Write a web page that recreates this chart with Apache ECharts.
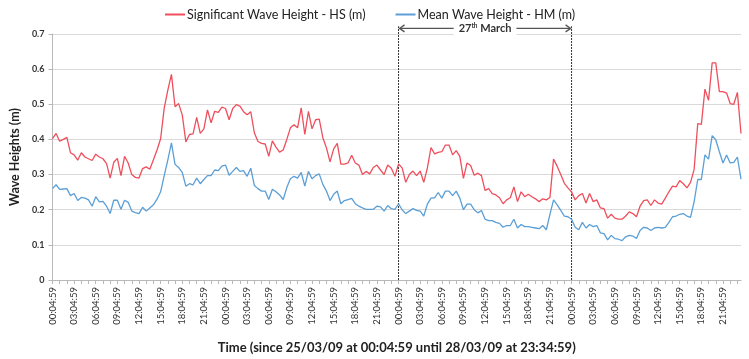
<!DOCTYPE html>
<html>
<head>
<meta charset="utf-8">
<script src="https://cdn.jsdelivr.net/npm/echarts@6/dist/echarts.min.js"></script>
<style>
  html, body { margin: 0; padding: 0; background: #fff; }
  #chart { width: 749px; height: 359px; }
</style>
</head>
<body>
<div id="chart"></div>
<script>
// half-hourly samples, 25/03/09 00:04:59 .. 28/03/09 23:34:59
const times = []
for (let d = 0; d < 4; d++) {
  for (let h = 0; h < 24; h++) {
    const hh = (h < 10 ? '0' : '') + h
    times.push(hh + ':04:59')
    times.push(hh + ':34:59')
  }
}

const yTicks = [0, 0.1, 0.2, 0.3, 0.4, 0.5, 0.6, 0.7]
const markedDay = ['27', 'th', 'March'] // 27th March, start/end sample index below
const markedStart = 96
const markedEnd = 144

// Significant Wave Height - HS (m)
const hs = [
  0.402, 0.417, 0.395, 0.400, 0.406, 0.362, 0.356, 0.341, 0.362, 0.350,
  0.345, 0.340, 0.358, 0.350, 0.345, 0.331, 0.290, 0.335, 0.346, 0.297,
  0.352, 0.333, 0.300, 0.292, 0.290, 0.317, 0.322, 0.315, 0.342, 0.370,
  0.402, 0.489, 0.540, 0.585, 0.493, 0.502, 0.470, 0.393, 0.414, 0.416,
  0.463, 0.417, 0.430, 0.484, 0.447, 0.480, 0.477, 0.492, 0.488, 0.456,
  0.488, 0.499, 0.495, 0.479, 0.470, 0.479, 0.419, 0.394, 0.389, 0.387,
  0.352, 0.396, 0.378, 0.364, 0.370, 0.400, 0.433, 0.442, 0.433, 0.490,
  0.414, 0.480, 0.430, 0.456, 0.458, 0.405, 0.376, 0.336, 0.373, 0.389,
  0.330, 0.330, 0.333, 0.355, 0.333, 0.327, 0.300, 0.309, 0.302, 0.320,
  0.327, 0.313, 0.300, 0.327, 0.318, 0.295, 0.330, 0.319, 0.278, 0.300,
  0.310, 0.297, 0.310, 0.278, 0.319, 0.377, 0.359, 0.363, 0.365, 0.384,
  0.384, 0.356, 0.368, 0.352, 0.289, 0.333, 0.326, 0.298, 0.304, 0.297,
  0.255, 0.260, 0.246, 0.242, 0.234, 0.217, 0.228, 0.234, 0.265, 0.223,
  0.251, 0.237, 0.244, 0.237, 0.231, 0.223, 0.231, 0.228, 0.235, 0.344,
  0.324, 0.300, 0.275, 0.262, 0.250, 0.228, 0.240, 0.246, 0.219, 0.246,
  0.223, 0.228, 0.205, 0.203, 0.176, 0.187, 0.176, 0.173, 0.173, 0.182,
  0.194, 0.189, 0.180, 0.210, 0.226, 0.228, 0.212, 0.228, 0.219, 0.216,
  0.233, 0.251, 0.267, 0.265, 0.283, 0.274, 0.262, 0.278, 0.315, 0.445,
  0.443, 0.543, 0.511, 0.618, 0.618, 0.536, 0.536, 0.532, 0.502, 0.500,
  0.534, 0.417
]

// Mean Wave Height - HM (m)
const hm = [
  0.260, 0.271, 0.258, 0.259, 0.260, 0.240, 0.246, 0.226, 0.235, 0.233,
  0.228, 0.210, 0.237, 0.222, 0.224, 0.210, 0.189, 0.227, 0.227, 0.201,
  0.227, 0.221, 0.196, 0.192, 0.189, 0.207, 0.196, 0.205, 0.214, 0.230,
  0.251, 0.297, 0.342, 0.390, 0.329, 0.320, 0.306, 0.267, 0.274, 0.271,
  0.290, 0.274, 0.286, 0.297, 0.297, 0.313, 0.311, 0.324, 0.327, 0.298,
  0.309, 0.320, 0.309, 0.311, 0.295, 0.318, 0.269, 0.260, 0.253, 0.253,
  0.229, 0.258, 0.251, 0.242, 0.229, 0.263, 0.288, 0.295, 0.290, 0.306,
  0.267, 0.309, 0.288, 0.297, 0.302, 0.272, 0.253, 0.226, 0.244, 0.253,
  0.217, 0.226, 0.229, 0.232, 0.217, 0.210, 0.205, 0.201, 0.201, 0.201,
  0.210, 0.208, 0.196, 0.212, 0.203, 0.201, 0.217, 0.200, 0.189, 0.196,
  0.203, 0.198, 0.196, 0.182, 0.216, 0.233, 0.234, 0.249, 0.233, 0.253,
  0.253, 0.240, 0.253, 0.233, 0.200, 0.216, 0.216, 0.200, 0.191, 0.198,
  0.173, 0.169, 0.169, 0.164, 0.161, 0.150, 0.155, 0.155, 0.173, 0.148,
  0.158, 0.152, 0.152, 0.150, 0.148, 0.146, 0.155, 0.143, 0.187, 0.228,
  0.214, 0.198, 0.182, 0.180, 0.173, 0.150, 0.143, 0.164, 0.148, 0.158,
  0.152, 0.155, 0.134, 0.132, 0.114, 0.127, 0.118, 0.116, 0.112, 0.123,
  0.127, 0.125, 0.118, 0.141, 0.150, 0.148, 0.141, 0.148, 0.150, 0.148,
  0.150, 0.164, 0.180, 0.182, 0.187, 0.189, 0.182, 0.178, 0.223, 0.286,
  0.286, 0.356, 0.344, 0.411, 0.399, 0.365, 0.333, 0.356, 0.333, 0.335,
  0.350, 0.287
]

const font = 'Lato, "Open Sans", sans-serif'
const chart = echarts.init(document.getElementById('chart'))

chart.setOption({
  animation: false,
  textStyle: { fontFamily: font },
  legend: {
    top: 3,
    left: 160,
    itemGap: 30,
    itemWidth: 20,
    itemHeight: 2,
    icon: 'rect',
    textStyle: { fontSize: 12.5, color: '#222', padding: [0, 0, 0, -3] },
    data: ['Significant Wave Height - HS (m)', 'Mean Wave Height - HM (m)']
  },
  grid: {
    left: 44,
    right: 8,
    top: 34,
    bottom: 71
  },
  xAxis: {
    type: 'category',
    data: times,
    boundaryGap: false,
    name: 'Time (since 25/03/09 at 00:04:59 until 28/03/09 at 23:34:59)',
    nameLocation: 'middle',
    nameGap: 61,
    nameTextStyle: { fontSize: 13, fontWeight: 'bold', color: '#222' },
    axisLine: { lineStyle: { color: '#b8b8b8', width: 1 } },
    axisTick: { interval: 1, length: 4, lineStyle: { color: '#b8b8b8' } },
    axisLabel: {
      interval: 5,
      rotate: 90,
      fontSize: 9.5,
      color: '#333',
      margin: 7
    },
    splitLine: { show: false }
  },
  yAxis: {
    type: 'value',
    min: yTicks[0],
    max: yTicks[yTicks.length - 1],
    interval: 0.1,
    name: 'Wave Heights (m)',
    nameLocation: 'middle',
    nameGap: 27,
    nameTextStyle: { fontSize: 12.5, fontWeight: 'bold', color: '#222' },
    axisLine: { show: true, lineStyle: { color: '#b8b8b8' } },
    axisTick: { show: true, length: 4, lineStyle: { color: '#b8b8b8' } },
    axisLabel: {
      fontSize: 9,
      fontWeight: 'bold',
      color: '#333',
      margin: 8,
      formatter: v => (v === 0 ? '0' : v.toFixed(1))
    },
    splitLine: { lineStyle: { color: '#d9d9d9', width: 1 } }
  },
  series: [
    {
      name: 'Significant Wave Height - HS (m)',
      type: 'line',
      data: hs,
      showSymbol: false,
      lineStyle: { color: '#ef4f5c', width: 1.3 },
      itemStyle: { color: '#ef4f5c' }
    },
    {
      name: 'Mean Wave Height - HM (m)',
      type: 'line',
      data: hm,
      showSymbol: false,
      lineStyle: { color: '#5b9fd6', width: 1.3 },
      itemStyle: { color: '#5b9fd6' }
    }
  ]
})

// "27th March" bracket: reaches a little above the plot, so it is drawn as
// graphic elements placed through the axes' own conversion
const x1 = chart.convertToPixel({ xAxisIndex: 0 }, markedStart)
const x2 = chart.convertToPixel({ xAxisIndex: 0 }, markedEnd)
const yBase = chart.convertToPixel({ yAxisIndex: 0 }, 0)
const yTop = chart.convertToPixel({ yAxisIndex: 0 }, 0.722)
const yArrow = chart.convertToPixel({ yAxisIndex: 0 }, 0.716)
const dash = { stroke: '#333', lineWidth: 1, lineDash: [2, 1] }
const solid = { stroke: '#555', lineWidth: 1.3, fill: null }

chart.setOption({
  graphic: [
    { type: 'line', silent: true, shape: { x1: x1, y1: yBase, x2: x1, y2: yTop }, style: dash },
    { type: 'line', silent: true, shape: { x1: x2, y1: yBase, x2: x2, y2: yTop }, style: dash },
    { type: 'line', silent: true, shape: { x1: x1 + 1, y1: yArrow, x2: x2 - 1, y2: yArrow }, style: solid },
    { type: 'polyline', silent: true, shape: { points: [[x1 + 6, yArrow - 3.5], [x1 + 1, yArrow], [x1 + 6, yArrow + 3.5]] }, style: solid },
    { type: 'polyline', silent: true, shape: { points: [[x2 - 6, yArrow - 3.5], [x2 - 1, yArrow], [x2 - 6, yArrow + 3.5]] }, style: solid },
    {
      type: 'text',
      silent: true,
      x: (x1 + x2) / 2,
      y: yArrow,
      style: {
        text: markedDay[0] + '{s|' + markedDay[1] + '} ' + markedDay[2],
        align: 'center',
        verticalAlign: 'middle',
        font: 'bold 11px ' + font,
        fill: '#333',
        backgroundColor: '#fff',
        padding: [1, 5],
        rich: {
          s: { font: 'bold 6.5px ' + font, fill: '#333', verticalAlign: 'top', padding: [0, 0, 4, 0] }
        }
      }
    }
  ]
})
</script>
</body>
</html>
